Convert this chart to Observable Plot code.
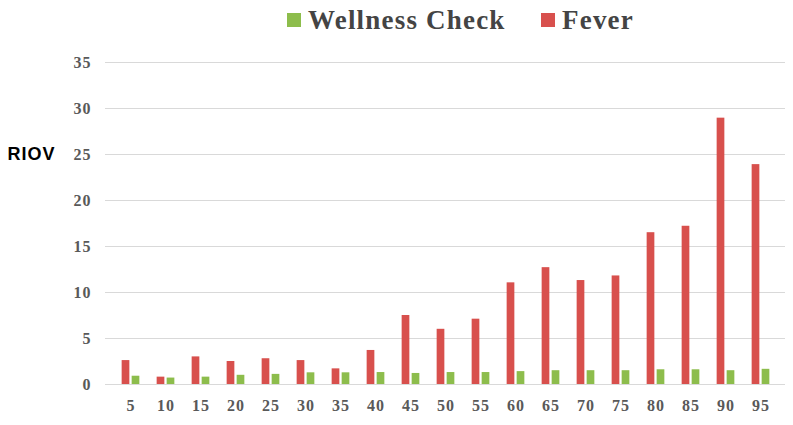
<!DOCTYPE html>
<html>
<head>
<meta charset="utf-8">
<script src="https://cdn.jsdelivr.net/npm/d3@7"></script>
<script src="https://cdn.jsdelivr.net/npm/@observablehq/plot@0.6"></script>
<style>
  html, body { margin: 0; padding: 0; background: #fff; }
  #wrap { width: 793px; height: 425px; position: relative; overflow: hidden; }
  #legend { position: relative; height: 40px; width: 793px;
    font-family: "Liberation Serif", "Times New Roman", serif; font-weight: bold;
    font-size: 27px; letter-spacing: 1.2px; color: #444; }
  #legend .item { position: absolute; top: 0; height: 40px; display: flex; align-items: center; white-space: nowrap; }
  #legend .sw { width: 14px; height: 14px; display: inline-block; margin-right: 7px; }
  svg { display: block; }
  svg text { letter-spacing: 1px; }
</style>
</head>
<body>
<div id="wrap">
  <div id="legend"></div>
  <div id="chart"></div>
</div>
<script>
const ages = [5, 10, 15, 20, 25, 30, 35, 40, 45, 50, 55, 60, 65, 70, 75, 80, 85, 90, 95];
const fever = [2.6, 0.8, 3.0, 2.5, 2.8, 2.6, 1.7, 3.7, 7.5, 6.0, 7.1, 11.05, 12.7, 11.3, 11.8, 16.5, 17.2, 28.95, 23.9];
const wellness = [0.9, 0.7, 0.8, 1.0, 1.1, 1.27, 1.27, 1.3, 1.2, 1.3, 1.3, 1.4, 1.5, 1.5, 1.5, 1.6, 1.6, 1.5, 1.65];
const yTicks = [0, 5, 10, 15, 20, 25, 30, 35];
const seriesNames = ["Wellness Check", "Fever"];
const seriesColors = ["#8dbd4c", "#d8504d"];
const yLabel = "RIOV";

const rows = ages.map((a, i) => ({age: a, fever: fever[i], wellness: wellness[i]}));

// legend
const legend = document.getElementById("legend");
const legendLeft = [287, 541];
seriesNames.forEach((name, i) => {
  const item = document.createElement("div");
  item.className = "item";
  item.style.left = legendLeft[i] + "px";
  const sw = document.createElement("span");
  sw.className = "sw";
  sw.style.background = seriesColors[i];
  item.appendChild(sw);
  item.appendChild(document.createTextNode(name));
  legend.appendChild(item);
});

const barW = 8.5;
const inset = (35.8 - barW) / 2;

const chart = Plot.plot({
  width: 793,
  height: 385,
  marginTop: 22,
  marginBottom: 41,
  marginLeft: 105,
  marginRight: 8,
  style: {
    fontFamily: "'Liberation Serif', 'Times New Roman', serif",
    fontWeight: "bold",
    fontSize: "16px",
    color: "#595959",
    background: "#fff"
  },
  x: {type: "band", domain: ages, padding: 0},
  y: {domain: [0, 35]},
  marks: [
    Plot.gridY(yTicks, {stroke: "#d9d9d9", strokeOpacity: 1, strokeWidth: 1.2}),
    Plot.barY(rows, {x: "age", y: "fever", fill: seriesColors[1], dx: -5, insetLeft: inset, insetRight: inset}),
    Plot.barY(rows, {x: "age", y: "wellness", fill: seriesColors[0], dx: 5, insetLeft: inset, insetRight: inset}),
    Plot.axisY({ticks: yTicks, tickSize: 0, tickPadding: 14, label: null}),
    Plot.axisX({tickSize: 0, tickPadding: 15, label: null}),
    Plot.text([yLabel], {
      y: [25], frameAnchor: "left", dx: -98, textAnchor: "start",
      fontFamily: "'Liberation Sans', Arial, sans-serif", fontWeight: "bold", fontSize: 18,
      fill: "#000"
    })
  ]
});
document.getElementById("chart").appendChild(chart);
</script>
</body>
</html>
